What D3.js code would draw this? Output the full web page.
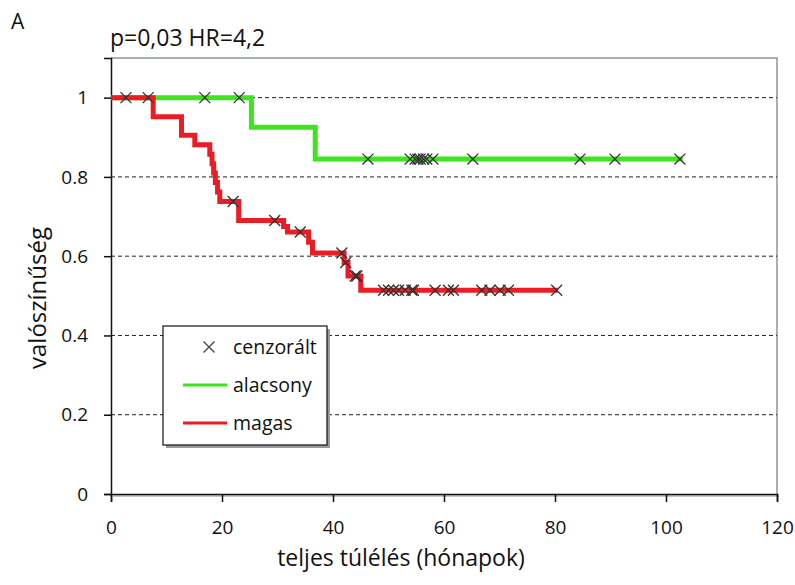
<!DOCTYPE html>
<html>
<head>
<meta charset="utf-8">
<script src="https://cdn.jsdelivr.net/npm/d3@7"></script>
<style>
  body { margin: 0; background: #fff; }
  text { font-family: "Open Sans", sans-serif; fill: #111; }
</style>
</head>
<body>
<svg width="795" height="585"></svg>
<script>
// step times (months) and survival after each step
const greenTimes = [0, 25.3, 36.8];
const greenSurv = [1, 0.925, 0.845];
const greenEnd = 103;
const greenCens = [16.9, 23.1, 46.3, 53.9, 54.8, 55.3, 55.7, 56.3, 56.9, 58.0, 65.2, 84.5, 90.8, 102.5];

const redTimes = [0, 7.6, 12.7, 15.1, 17.8, 18.2, 18.5, 18.8, 19.2, 19.6, 23.0, 31.1, 31.8, 35.6, 36.3, 42.0, 42.7, 45.0];
const redSurv = [1, 0.952, 0.905, 0.881, 0.857, 0.833, 0.81, 0.786, 0.762, 0.738, 0.69, 0.675, 0.661, 0.635, 0.608, 0.584, 0.55, 0.514];
const redEnd = 80.5;
const redCens = [2.7, 6.7, 22.0, 29.5, 34.1, 41.6, 42.3, 44.0, 44.3, 49.1, 50.0, 50.9, 51.8, 53.0, 54.2, 54.5, 58.4, 60.8, 61.7, 66.8, 68.3, 70.1, 71.6, 80.3];

const xTicks = [0, 20, 40, 60, 80, 100, 120];
const yTicks = [0, 0.2, 0.4, 0.6, 0.8, 1];
const yTickLabels = ["0", "0.2", "0.4", "0.6", "0.8", "1"];

const legendItems = ["cenzorált", "alacsony", "magas"];

const svg = d3.select("svg");
const plotLeft = 111, plotRight = 777, plotTop = 58, plotBottom = 494;

const x = d3.scaleLinear().domain([0, 120]).range([plotLeft, plotRight]);
const y = d3.scaleLinear().domain([0, 1.1]).range([plotBottom, plotTop]);

const green = "#3de61c", red = "#ec1c24";

// frame on top and right
svg.append("path")
    .attr("d", `M${plotLeft},${plotTop}H${plotRight}V${plotBottom}`)
    .attr("fill", "none")
    .attr("stroke", "#8c9896")
    .attr("stroke-width", 1.5);

// dashed gridlines
svg.append("g").selectAll("line")
    .data(yTicks.filter(d => d > 0))
    .join("line")
    .attr("x1", plotLeft).attr("x2", plotRight)
    .attr("y1", d => y(d)).attr("y2", d => y(d))
    .attr("stroke", "#222")
    .attr("stroke-width", 1)
    .attr("stroke-dasharray", "4,3");

// faint shadow under the x axis
svg.append("line")
    .attr("x1", plotLeft + 2).attr("x2", plotRight + 2)
    .attr("y1", plotBottom + 2).attr("y2", plotBottom + 2)
    .attr("stroke", "#c4c4c4").attr("stroke-width", 2);

// axes
const xAxis = svg.append("g")
    .attr("transform", `translate(0,${plotBottom})`)
    .call(d3.axisBottom(x).tickValues(xTicks).tickSize(8).tickPadding(19).tickFormat(d3.format("d")));
const yAxis = svg.append("g")
    .attr("transform", `translate(${plotLeft},0)`)
    .call(d3.axisLeft(y).tickValues(yTicks).tickSize(7).tickPadding(16).tickFormat((d, i) => yTickLabels[i]));
[xAxis, yAxis].forEach(a => {
    a.select(".domain").attr("stroke", "#111").attr("stroke-width", 1.5);
    a.selectAll(".tick line").attr("stroke", "#111").attr("stroke-width", 1.5);
    a.selectAll(".tick text").style("font-size", "19px").attr("fill", "#222233");
});

// survival curves
function stepPoints(times, surv, end) {
    const pts = times.map((t, i) => [t, surv[i]]);
    pts.push([end, surv[surv.length - 1]]);
    return pts;
}
function survAt(times, surv, t) {
    let v = surv[0];
    times.forEach((tt, i) => { if (tt <= t) v = surv[i]; });
    return v;
}
const line = d3.line()
    .x(d => x(d[0]))
    .y(d => y(d[1]))
    .curve(d3.curveStepAfter);

svg.append("path")
    .datum(stepPoints(greenTimes, greenSurv, greenEnd))
    .attr("d", line)
    .attr("fill", "none")
    .attr("stroke", green)
    .attr("stroke-width", 5);

svg.append("path")
    .datum(stepPoints(redTimes, redSurv, redEnd))
    .attr("d", line)
    .attr("fill", "none")
    .attr("stroke", red)
    .attr("stroke-width", 5);

// censored marks
const cross = d3.symbol().type(d3.symbolX).size(80);
const marks = greenCens.map(t => [t, survAt(greenTimes, greenSurv, t)])
    .concat(redCens.map(t => [t, survAt(redTimes, redSurv, t)]));
svg.append("g").selectAll("path")
    .data(marks)
    .join("path")
    .attr("transform", d => `translate(${x(d[0])},${y(d[1])})`)
    .attr("d", cross)
    .attr("fill", "none")
    .attr("stroke", "#333")
    .attr("stroke-width", 1.3);

// legend
const lg = svg.append("g").attr("transform", "translate(163,326)");
lg.append("rect")
    .attr("x", 3).attr("y", 3).attr("width", 164).attr("height", 119)
    .attr("fill", "#9a9a9a");
lg.append("rect")
    .attr("width", 164).attr("height", 119)
    .attr("fill", "#fff").attr("stroke", "#111").attr("stroke-width", 1.2);
lg.append("path")
    .attr("transform", "translate(46,21)")
    .attr("d", cross)
    .attr("fill", "none").attr("stroke", "#444").attr("stroke-width", 1.3);
lg.append("line").attr("x1", 20).attr("x2", 64).attr("y1", 59).attr("y2", 59)
    .attr("stroke", green).attr("stroke-width", 3);
lg.append("line").attr("x1", 20).attr("x2", 64).attr("y1", 97).attr("y2", 97)
    .attr("stroke", red).attr("stroke-width", 3);
lg.selectAll("text.item")
    .data(legendItems)
    .join("text")
    .attr("class", "item")
    .attr("x", 70)
    .attr("y", (d, i) => 21 + i * 38)
    .attr("dy", "0.35em")
    .style("font-size", "19.5px")
    .text(d => d);

// titles
svg.append("text").attr("x", 11).attr("y", 29).style("font-size", "21px").text("A");
svg.append("text").attr("x", 110).attr("y", 46).style("font-size", "23px").text("p=0,03 HR=4,2");
svg.append("text")
    .attr("x", 401).attr("y", 566)
    .attr("text-anchor", "middle")
    .style("font-size", "23px")
    .text("teljes túlélés (hónapok)");
svg.append("text")
    .attr("transform", "translate(46,298) rotate(-90)")
    .attr("text-anchor", "middle")
    .style("font-size", "24px")
    .text("valószínűség");
</script>
</body>
</html>
